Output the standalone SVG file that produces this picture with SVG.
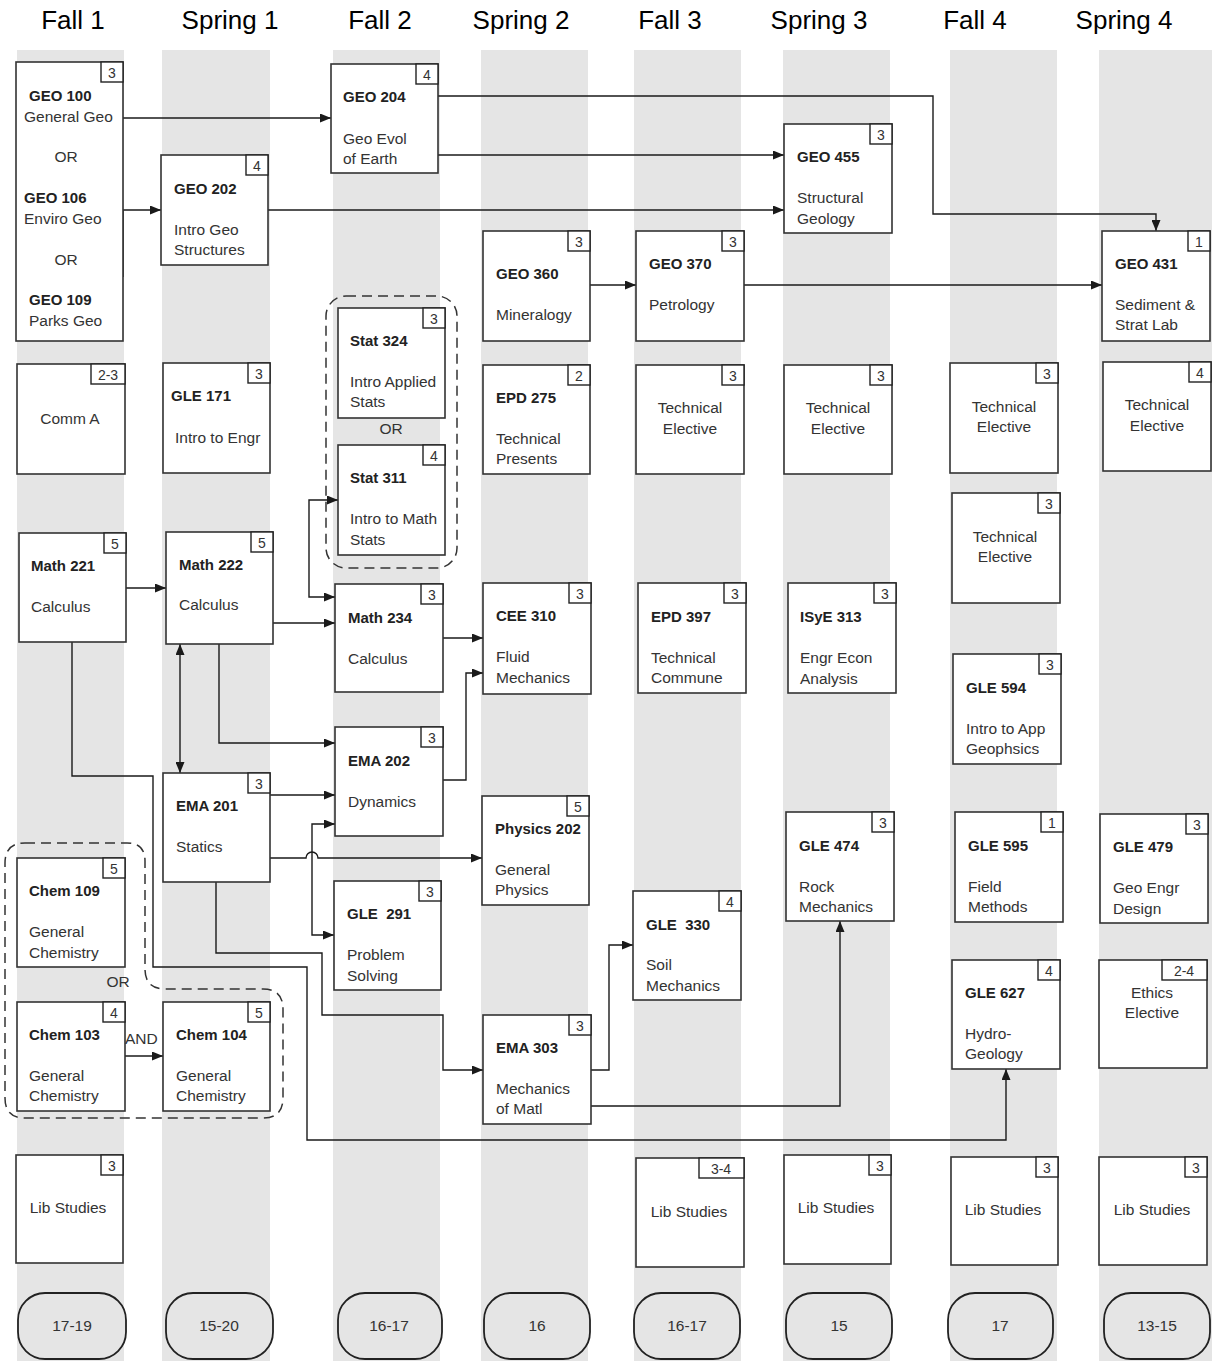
<svg xmlns="http://www.w3.org/2000/svg" width="1212" height="1361" viewBox="0 0 1212 1361">
<defs>
<marker id="ah" markerUnits="userSpaceOnUse" markerWidth="11" markerHeight="9" refX="11" refY="4.5" orient="auto-start-reverse"><path d="M0,0 L11,4.5 L0,9 z" fill="#1a1a1a"/></marker>
</defs>
<style>
.band{fill:#e5e5e5}
.box{fill:#fff;stroke:#333;stroke-width:1.6}
.cr{fill:#fff;stroke:#222;stroke-width:1.4}
.pill{fill:#e5e5e5;stroke:#222;stroke-width:1.8}
text{font-family:"Liberation Sans",Arial,sans-serif;font-size:15.5px;fill:#333}
.b{font-weight:bold;fill:#222;font-size:15px}
.m{text-anchor:middle}
.crt{text-anchor:middle;font-size:14px;fill:#333}
.hd{font-size:26px;fill:#000;text-anchor:middle}
.conn path,.conn line{fill:none;stroke:#1a1a1a;stroke-width:1.4}
.grp{fill:none;stroke:#333;stroke-width:1.5;stroke-dasharray:10,6}
</style>
<rect width="1212" height="1361" fill="#fff"/>
<g id="bands">
<rect class="band" x="17" y="50" width="107" height="1311"/>
<rect class="band" x="162" y="50" width="108" height="1311"/>
<rect class="band" x="333" y="50" width="107" height="1311"/>
<rect class="band" x="481" y="50" width="107" height="1311"/>
<rect class="band" x="634" y="50" width="107" height="1311"/>
<rect class="band" x="783" y="50" width="107" height="1311"/>
<rect class="band" x="950" y="50" width="107" height="1311"/>
<rect class="band" x="1099" y="50" width="113" height="1311"/>
</g>
<g id="headers">
<text class="hd" x="73" y="29">Fall 1</text>
<text class="hd" x="230" y="29">Spring 1</text>
<text class="hd" x="380" y="29">Fall 2</text>
<text class="hd" x="521" y="29">Spring 2</text>
<text class="hd" x="670" y="29">Fall 3</text>
<text class="hd" x="819" y="29">Spring 3</text>
<text class="hd" x="975" y="29">Fall 4</text>
<text class="hd" x="1124" y="29">Spring 4</text>
</g>
<g id="groups">
<rect class="grp" x="326" y="296" width="131" height="272" rx="20"/>
<path class="grp" d="M25,843 H127 Q145,843 145,861 V969 Q145,989 165,989 H263 Q283,989 283,1009 V1098 Q283,1118 263,1118 H25 Q5,1118 5,1098 V863 Q5,843 25,843 Z"/>
</g>
<g class="conn" id="connectors">
<path d="M123,118 H331" marker-end="url(#ah)"/>
<path d="M438,96 H933 V214 H1156 V231" marker-end="url(#ah)"/>
<path d="M438,155 H784" marker-end="url(#ah)"/>
<path d="M123,210 V277 M123,210 H161" marker-end="url(#ah)"/>
<path d="M268,210 H784" marker-end="url(#ah)"/>
<path d="M590,285 H636" marker-end="url(#ah)"/>
<path d="M744,285 H1102" marker-end="url(#ah)"/>
<path d="M126,588 H166" marker-end="url(#ah)"/>
<path d="M273,623 H335" marker-end="url(#ah)"/>
<path d="M219,644 V743 H335" marker-end="url(#ah)"/>
<path d="M180,644 V773" marker-start="url(#ah)" marker-end="url(#ah)"/>
<path d="M338,500 H309 V597 H335" marker-start="url(#ah)" marker-end="url(#ah)"/>
<path d="M443,638 H483" marker-end="url(#ah)"/>
<path d="M443,780 H466 V673 H483" marker-end="url(#ah)"/>
<path d="M72,642 V776 H153 V967 H307 V1140 H1006 V1069" marker-end="url(#ah)"/>
<path d="M270,795 H335" marker-end="url(#ah)"/>
<path d="M270,858 H306 A6,6 0 0 1 318,858 H482" marker-end="url(#ah)"/>
<path d="M335,824 H312 V935 H334" marker-start="url(#ah)" marker-end="url(#ah)"/>
<path d="M216,882 V953 H322 V1015 H443 V1070 H483" marker-end="url(#ah)"/>
<path d="M125,1056 H163" marker-end="url(#ah)"/>
<path d="M591,1070 H609 V945 H633" marker-end="url(#ah)"/>
<path d="M591,1106 H840 V921" marker-end="url(#ah)"/>
</g>
<g id="geo100"><rect class="box" x="16" y="62" width="107" height="279"/><rect class="cr" x="101" y="62" width="22" height="20"/><text class="crt" x="112" y="78">3</text>
<text class="b" x="29" y="101">GEO 100</text><text x="24" y="122">General Geo</text><text class="m" x="66" y="162">OR</text><text class="b" x="24" y="203">GEO 106</text><text x="24" y="224">Enviro Geo</text><text class="m" x="66" y="265">OR</text><text class="b" x="29" y="305">GEO 109</text><text x="29" y="326">Parks Geo</text></g>
<g id="geo204"><rect class="box" x="331" y="64" width="107" height="109"/><rect class="cr" x="416" y="64" width="22" height="20"/><text class="crt" x="427" y="80">4</text><text class="b" x="343" y="102">GEO 204</text><text x="343" y="144">Geo Evol</text><text x="343" y="164">of Earth</text></g>
<g id="geo202"><rect class="box" x="161" y="155" width="107" height="110"/><rect class="cr" x="246" y="155" width="22" height="20"/><text class="crt" x="257" y="171">4</text><text class="b" x="174" y="194">GEO 202</text><text x="174" y="235">Intro Geo</text><text x="174" y="255">Structures</text></g>
<g id="geo455"><rect class="box" x="784" y="124" width="108" height="109"/><rect class="cr" x="870" y="124" width="22" height="20"/><text class="crt" x="881" y="140">3</text><text class="b" x="797" y="162">GEO 455</text><text x="797" y="203">Structural</text><text x="797" y="224">Geology</text></g>
<g id="geo360"><rect class="box" x="483" y="231" width="107" height="110"/><rect class="cr" x="568" y="231" width="22" height="20"/><text class="crt" x="579" y="247">3</text><text class="b" x="496" y="279">GEO 360</text><text x="496" y="320">Mineralogy</text></g>
<g id="geo370"><rect class="box" x="636" y="231" width="108" height="110"/><rect class="cr" x="722" y="231" width="22" height="20"/><text class="crt" x="733" y="247">3</text><text class="b" x="649" y="269">GEO 370</text><text x="649" y="310">Petrology</text></g>
<g id="geo431"><rect class="box" x="1102" y="231" width="108" height="110"/><rect class="cr" x="1188" y="231" width="22" height="20"/><text class="crt" x="1199" y="247">1</text><text class="b" x="1115" y="269">GEO 431</text><text x="1115" y="310">Sediment &amp;</text><text x="1115" y="330">Strat Lab</text></g>
<g id="comma"><rect class="box" x="17" y="364" width="108" height="110"/><rect class="cr" x="91" y="364" width="34" height="20"/><text class="crt" x="108" y="380">2-3</text><text class="m" x="70" y="424">Comm A</text></g>
<g id="gle171"><rect class="box" x="163" y="363" width="107" height="110"/><rect class="cr" x="248" y="363" width="22" height="20"/><text class="crt" x="259" y="379">3</text><text class="b" x="171" y="401">GLE 171</text><text x="175" y="443">Intro to Engr</text></g>
<g id="epd275"><rect class="box" x="483" y="365" width="107" height="109"/><rect class="cr" x="568" y="365" width="22" height="20"/><text class="crt" x="579" y="381">2</text><text class="b" x="496" y="403">EPD 275</text><text x="496" y="444">Technical</text><text x="496" y="464">Presents</text></g>
<g id="te_f3"><rect class="box" x="636" y="365" width="108" height="109"/><rect class="cr" x="722" y="365" width="22" height="20"/><text class="crt" x="733" y="381">3</text><text class="m" x="690" y="413">Technical</text><text class="m" x="690" y="434">Elective</text></g>
<g id="te_s3"><rect class="box" x="784" y="365" width="108" height="109"/><rect class="cr" x="870" y="365" width="22" height="20"/><text class="crt" x="881" y="381">3</text><text class="m" x="838" y="413">Technical</text><text class="m" x="838" y="434">Elective</text></g>
<g id="te_f4a"><rect class="box" x="950" y="363" width="108" height="110"/><rect class="cr" x="1036" y="363" width="22" height="20"/><text class="crt" x="1047" y="379">3</text><text class="m" x="1004" y="412">Technical</text><text class="m" x="1004" y="432">Elective</text></g>
<g id="te_s4"><rect class="box" x="1103" y="362" width="108" height="109"/><rect class="cr" x="1189" y="362" width="22" height="20"/><text class="crt" x="1200" y="378">4</text><text class="m" x="1157" y="410">Technical</text><text class="m" x="1157" y="431">Elective</text></g>
<g id="te_f4b"><rect class="box" x="952" y="493" width="108" height="110"/><rect class="cr" x="1038" y="493" width="22" height="20"/><text class="crt" x="1049" y="509">3</text><text class="m" x="1005" y="542">Technical</text><text class="m" x="1005" y="562">Elective</text></g>
<g id="stat324"><rect class="box" x="338" y="308" width="107" height="110"/><rect class="cr" x="423" y="308" width="22" height="20"/><text class="crt" x="434" y="324">3</text><text class="b" x="350" y="346">Stat 324</text><text x="350" y="387">Intro Applied</text><text x="350" y="407">Stats</text></g>
<text class="m" x="391" y="434">OR</text>
<g id="stat311"><rect class="box" x="338" y="445" width="107" height="110"/><rect class="cr" x="423" y="445" width="22" height="20"/><text class="crt" x="434" y="461">4</text><text class="b" x="350" y="483">Stat 311</text><text x="350" y="524">Intro to Math</text><text x="350" y="545">Stats</text></g>
<g id="math221"><rect class="box" x="19" y="533" width="107" height="109"/><rect class="cr" x="104" y="533" width="22" height="20"/><text class="crt" x="115" y="549">5</text><text class="b" x="31" y="571">Math 221</text><text x="31" y="612">Calculus</text></g>
<g id="math222"><rect class="box" x="166" y="532" width="107" height="112"/><rect class="cr" x="251" y="532" width="22" height="20"/><text class="crt" x="262" y="548">5</text><text class="b" x="179" y="570">Math 222</text><text x="179" y="610">Calculus</text></g>
<g id="math234"><rect class="box" x="335" y="584" width="108" height="108"/><rect class="cr" x="421" y="584" width="22" height="20"/><text class="crt" x="432" y="600">3</text><text class="b" x="348" y="623">Math 234</text><text x="348" y="664">Calculus</text></g>
<g id="ema202"><rect class="box" x="335" y="727" width="108" height="109"/><rect class="cr" x="421" y="727" width="22" height="20"/><text class="crt" x="432" y="743">3</text><text class="b" x="348" y="766">EMA 202</text><text x="348" y="807">Dynamics</text></g>
<g id="cee310"><rect class="box" x="483" y="583" width="108" height="111"/><rect class="cr" x="569" y="583" width="22" height="20"/><text class="crt" x="580" y="599">3</text><text class="b" x="496" y="621">CEE 310</text><text x="496" y="662">Fluid</text><text x="496" y="683">Mechanics</text></g>
<g id="epd397"><rect class="box" x="638" y="583" width="108" height="110"/><rect class="cr" x="724" y="583" width="22" height="20"/><text class="crt" x="735" y="599">3</text><text class="b" x="651" y="622">EPD 397</text><text x="651" y="663">Technical</text><text x="651" y="683">Commune</text></g>
<g id="isye313"><rect class="box" x="788" y="583" width="108" height="110"/><rect class="cr" x="874" y="583" width="22" height="20"/><text class="crt" x="885" y="599">3</text><text class="b" x="800" y="622">ISyE 313</text><text x="800" y="663">Engr Econ</text><text x="800" y="684">Analysis</text></g>
<g id="gle594"><rect class="box" x="953" y="654" width="108" height="110"/><rect class="cr" x="1039" y="654" width="22" height="20"/><text class="crt" x="1050" y="670">3</text><text class="b" x="966" y="693">GLE 594</text><text x="966" y="734">Intro to App</text><text x="966" y="754">Geophsics</text></g>
<g id="ema201"><rect class="box" x="163" y="773" width="107" height="109"/><rect class="cr" x="248" y="773" width="22" height="20"/><text class="crt" x="259" y="789">3</text><text class="b" x="176" y="811">EMA 201</text><text x="176" y="852">Statics</text></g>
<g id="phys202"><rect class="box" x="482" y="796" width="107" height="109"/><rect class="cr" x="567" y="796" width="22" height="20"/><text class="crt" x="578" y="812">5</text><text class="b" x="495" y="834">Physics 202</text><text x="495" y="875">General</text><text x="495" y="895">Physics</text></g>
<g id="gle291"><rect class="box" x="334" y="881" width="107" height="109"/><rect class="cr" x="419" y="881" width="22" height="20"/><text class="crt" x="430" y="897">3</text><text class="b" x="347" y="919" xml:space="preserve">GLE  291</text><text x="347" y="960">Problem</text><text x="347" y="981">Solving</text></g>
<g id="gle330"><rect class="box" x="633" y="891" width="108" height="109"/><rect class="cr" x="719" y="891" width="22" height="20"/><text class="crt" x="730" y="907">4</text><text class="b" x="646" y="930" xml:space="preserve">GLE  330</text><text x="646" y="970">Soil</text><text x="646" y="991">Mechanics</text></g>
<g id="gle474"><rect class="box" x="786" y="812" width="108" height="109"/><rect class="cr" x="872" y="812" width="22" height="20"/><text class="crt" x="883" y="828">3</text><text class="b" x="799" y="851">GLE 474</text><text x="799" y="892">Rock</text><text x="799" y="912">Mechanics</text></g>
<g id="gle595"><rect class="box" x="955" y="812" width="108" height="110"/><rect class="cr" x="1041" y="812" width="22" height="20"/><text class="crt" x="1052" y="828">1</text><text class="b" x="968" y="851">GLE 595</text><text x="968" y="892">Field</text><text x="968" y="912">Methods</text></g>
<g id="gle479"><rect class="box" x="1100" y="814" width="108" height="109"/><rect class="cr" x="1186" y="814" width="22" height="20"/><text class="crt" x="1197" y="830">3</text><text class="b" x="1113" y="852">GLE 479</text><text x="1113" y="893">Geo Engr</text><text x="1113" y="914">Design</text></g>
<g id="gle627"><rect class="box" x="952" y="960" width="108" height="109"/><rect class="cr" x="1038" y="960" width="22" height="20"/><text class="crt" x="1049" y="976">4</text><text class="b" x="965" y="998">GLE 627</text><text x="965" y="1039">Hydro-</text><text x="965" y="1059">Geology</text></g>
<g id="ethics"><rect class="box" x="1099" y="960" width="108" height="108"/><rect class="cr" x="1162" y="960" width="45" height="20"/><text class="crt" x="1184" y="976">2-4</text><text class="m" x="1152" y="998">Ethics</text><text class="m" x="1152" y="1018">Elective</text></g>
<g id="chem109"><rect class="box" x="17" y="858" width="108" height="109"/><rect class="cr" x="103" y="858" width="22" height="20"/><text class="crt" x="114" y="874">5</text><text class="b" x="29" y="896">Chem 109</text><text x="29" y="937">General</text><text x="29" y="958">Chemistry</text></g>
<text class="m" x="118" y="987">OR</text>
<g id="chem103"><rect class="box" x="17" y="1002" width="108" height="109"/><rect class="cr" x="103" y="1002" width="22" height="20"/><text class="crt" x="114" y="1018">4</text><text class="b" x="29" y="1040">Chem 103</text><text x="29" y="1081">General</text><text x="29" y="1101">Chemistry</text></g>
<text x="125" y="1044">AND</text>
<g id="chem104"><rect class="box" x="163" y="1002" width="107" height="109"/><rect class="cr" x="248" y="1002" width="22" height="20"/><text class="crt" x="259" y="1018">5</text><text class="b" x="176" y="1040">Chem 104</text><text x="176" y="1081">General</text><text x="176" y="1101">Chemistry</text></g>
<g id="ema303"><rect class="box" x="483" y="1015" width="108" height="109"/><rect class="cr" x="569" y="1015" width="22" height="20"/><text class="crt" x="580" y="1031">3</text><text class="b" x="496" y="1053">EMA 303</text><text x="496" y="1094">Mechanics</text><text x="496" y="1114">of Matl</text></g>
<g id="lib_f1"><rect class="box" x="16" y="1155" width="107" height="108"/><rect class="cr" x="101" y="1155" width="22" height="20"/><text class="crt" x="112" y="1171">3</text><text class="m" x="68" y="1213">Lib Studies</text></g>
<g id="lib_f3"><rect class="box" x="636" y="1158" width="108" height="109"/><rect class="cr" x="699" y="1158" width="45" height="20"/><text class="crt" x="721" y="1174">3-4</text><text class="m" x="689" y="1217">Lib Studies</text></g>
<g id="lib_s3"><rect class="box" x="784" y="1155" width="107" height="109"/><rect class="cr" x="869" y="1155" width="22" height="20"/><text class="crt" x="880" y="1171">3</text><text class="m" x="836" y="1213">Lib Studies</text></g>
<g id="lib_f4"><rect class="box" x="951" y="1157" width="107" height="108"/><rect class="cr" x="1036" y="1157" width="22" height="20"/><text class="crt" x="1047" y="1173">3</text><text class="m" x="1003" y="1215">Lib Studies</text></g>
<g id="lib_s4"><rect class="box" x="1099" y="1157" width="108" height="108"/><rect class="cr" x="1185" y="1157" width="22" height="20"/><text class="crt" x="1196" y="1173">3</text><text class="m" x="1152" y="1215">Lib Studies</text></g>
<g id="tot1"><rect class="pill" x="18" y="1293" width="108" height="66" rx="27"/><text class="m" x="72" y="1331">17-19</text></g>
<g id="tot2"><rect class="pill" x="166" y="1293" width="107" height="66" rx="27"/><text class="m" x="219" y="1331">15-20</text></g>
<g id="tot3"><rect class="pill" x="338" y="1293" width="104" height="66" rx="27"/><text class="m" x="389" y="1331">16-17</text></g>
<g id="tot4"><rect class="pill" x="484" y="1293" width="106" height="66" rx="27"/><text class="m" x="537" y="1331">16</text></g>
<g id="tot5"><rect class="pill" x="634" y="1293" width="106" height="66" rx="27"/><text class="m" x="687" y="1331">16-17</text></g>
<g id="tot6"><rect class="pill" x="786" y="1293" width="106" height="66" rx="27"/><text class="m" x="839" y="1331">15</text></g>
<g id="tot7"><rect class="pill" x="948" y="1293" width="105" height="66" rx="27"/><text class="m" x="1000" y="1331">17</text></g>
<g id="tot8"><rect class="pill" x="1104" y="1293" width="106" height="66" rx="27"/><text class="m" x="1157" y="1331">13-15</text></g>
</svg>
